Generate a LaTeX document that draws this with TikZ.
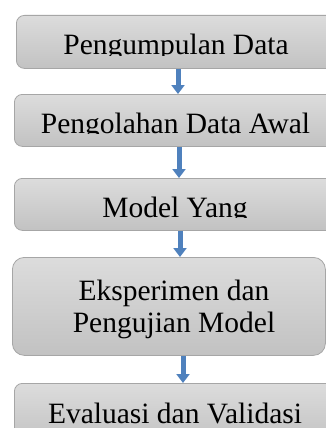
\documentclass[tikz,border=0pt]{standalone}
\usepackage{fontspec}
\setmainfont{Liberation Serif}
\usetikzlibrary{arrows.meta}
\definecolor{boxtop}{HTML}{DCDCDC}
\definecolor{boxbot}{HTML}{C2C2C2}
\definecolor{boxline}{HTML}{A6A6A6}
\definecolor{arrowblue}{HTML}{4F81BD}
\definecolor{arrowedge}{HTML}{3D6CA3}
\tikzset{
  box/.style={draw=boxline, line width=0.8pt, rounded corners=8pt, top color=boxtop, bottom color=boxbot, anchor=north west, inner sep=0pt},
  label/.style={font=\fontsize{29.5}{32}\selectfont, anchor=base, inner sep=0pt, align=center},
  flow/.style={arrowblue, line width=5pt, -{Triangle[width=13pt,length=9pt]}}
}
\begin{document}
\begin{tikzpicture}[x=1pt,y=1pt]
\useasboundingbox (0,0) rectangle (326,-428);
\clip (0,0) rectangle (326,-428);
\fill[white] (0,0) rectangle (326,-428);
% boxes
\node[box, minimum width=330pt, minimum height=53pt] (b1) at (16,-15) {};
\node[box, minimum width=332pt, minimum height=52pt] (b2) at (14,-94) {};
\node[box, minimum width=332pt, minimum height=52pt] (b3) at (14,-178) {};
\node[box, rounded corners=12pt, minimum width=313pt, minimum height=98pt] (b4) at (12,-257) {};
\node[box, minimum width=332pt, minimum height=60pt] (b5) at (14,-383) {};
% texts (clipped as in the reference)
\begin{scope}
\clip (0,-15) rectangle (326,-55.8);
\node[label] (t1) at (176,-55) {Pengumpulan Data};
\end{scope}
\begin{scope}
\clip (0,-94) rectangle (326,-133.8);
\node[label] (t2) at (175.5,-133.3) {Pengolahan Data Awal};
\end{scope}
\begin{scope}
\clip (0,-178) rectangle (326,-217.8);
\node[label] (t3) at (175,-217) {Model Yang};
\end{scope}
\node[label] (t4) at (174,-332) {Eksperimen dan\\Pengujian Model};
\node[label] (t5) at (175,-423) {Evaluasi dan Validasi};
% arrows
\coordinate (a1) at (178,0);
\coordinate (a2) at (179,0);
\coordinate (a3) at (180,0);
\coordinate (a4) at (183,0);
\draw[flow] (b1.south -| a1) -- (b2.north -| a1);
\draw[flow] (b2.south -| a2) -- (b3.north -| a2);
\draw[flow] (b3.south -| a3) -- (b4.north -| a3);
\draw[flow] (b4.south -| a4) -- (b5.north -| a4);
\end{tikzpicture}
\end{document}
